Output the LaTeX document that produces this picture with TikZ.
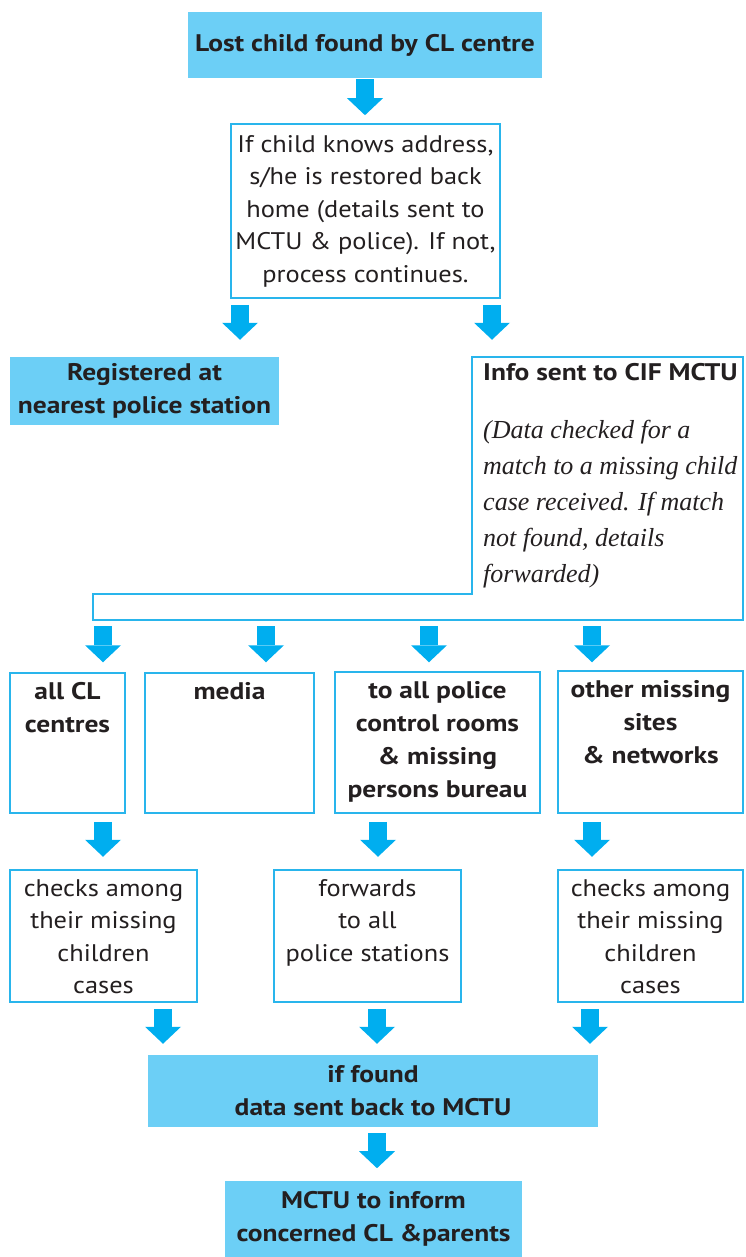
\documentclass[tikz,border=0pt]{standalone}
\usepackage{fontspec}
\setmainfont{PT Sans}[FakeStretch=1.1, BoldFeatures={FakeStretch=1.145}]
\newfontfamily\notefont{Liberation Serif}
\usetikzlibrary{arrows.meta,positioning,calc}

\definecolor{boxfill}{RGB}{108,207,246}
\definecolor{boxline}{RGB}{41,181,236}
\definecolor{arrowblue}{RGB}{0,174,239}
\definecolor{inktext}{RGB}{35,31,32}

\tikzset{
  fillbox/.style={fill=boxfill, inner sep=0pt, align=center, text=inktext, font=\bfseries\fontsize{24}{33}\selectfont},
  linebox/.style={draw=boxline, line width=1.5pt, inner sep=0pt},
  boldtext/.style={inner sep=0pt, align=center, text=inktext, font=\bfseries\fontsize{24}{33}\selectfont},
  plaintext/.style={inner sep=0pt, align=center, text=inktext, font=\fontsize{24}{32.5}\selectfont},
  flow/.style={color=arrowblue, line width=18.5pt, -{Triangle[width=36pt,length=17pt,line width=0pt]}},
}

\begin{document}
\begin{tikzpicture}[x=1pt,y=1pt,yscale=-1]
\useasboundingbox (0,0) rectangle (745,1257);

% Start
\node[fillbox, minimum width=354, minimum height=66] (start) at (365,45) {Lost child found by CL centre};
% Address check
\node[linebox, plaintext, minimum width=269, minimum height=174] (address) at (365.5,211)
  {If child knows address,\\ s/he is restored back\\ home (details sent to\\ MCTU \& police). If not,\\ process continues.};
% Police station
\node[fillbox, minimum width=269, minimum height=68] (station) at (144.5,391) {Registered at\\ nearest police station};

% Info box with bracket below
\draw[boxline, line width=1.5pt] (472,357) -- (743,357) -- (743,620) -- (93,620) -- (93,594) -- (472,594) -- cycle;
\node[boldtext, anchor=west] (infohead) at (483,372) {Info sent to CIF MCTU};
\node[inner sep=0pt, anchor=north west, align=left, text=inktext, font=\notefont\itshape\fontsize{26}{36}\selectfont] (infonote) at (483,420)
  {(Data checked for a\\ match to a missing child\\ case received. If match\\ not found, details\\ forwarded)};

% First row of receivers
\node[linebox, minimum width=115, minimum height=140] (centres) at (67.5,743) {};
\node[linebox, minimum width=169, minimum height=140] (media) at (229.5,743) {};
\node[linebox, minimum width=205, minimum height=141] (rooms) at (437.5,742.5) {};
\node[linebox, minimum width=185, minimum height=142] (sites) at (650.5,742) {};
\node[boldtext, below=10pt of centres.north] (centrestext) {all CL\\ centres};
\node[boldtext, below=10pt of media.north] (mediatext) {media};
\node[boldtext, below=10pt of rooms.north] (roomstext) {to all police\\ control rooms\\ \& missing\\ persons bureau};
\node[boldtext, below=10pt of sites.north] (sitestext) {other missing\\ sites\\ \& networks};

% Second row
\node[linebox, minimum width=187, minimum height=132] (checkl) at (103.5,936) {};
\node[linebox, minimum width=187, minimum height=132] (forward) at (367.5,936) {};
\node[linebox, minimum width=185, minimum height=132] (checkr) at (650.5,936) {};
\node[plaintext, below=10pt of checkl.north] (checkltext) {checks among\\ their missing\\ children\\ cases};
\node[plaintext, below=10pt of forward.north] (forwardtext) {forwards\\ to all\\ police stations};
\node[plaintext, below=10pt of checkr.north] (checkrtext) {checks among\\ their missing\\ children\\ cases};

% Result
\node[fillbox, minimum width=450, minimum height=72] (back) at (373,1091) {if found\\ data sent back to MCTU};
\node[fillbox, minimum width=297, minimum height=76] (inform) at (373.5,1219) {MCTU to inform\\ concerned CL \&parents};

% Arrows
\draw[flow] ($(start.south)+(0,1)$) -- ++(0,36);
\draw[flow] ($(address.south)+(-125.5,6)$) -- ++(0,35);
\draw[flow] ($(address.south)+(126.5,6)$) -- ++(0,35);
\draw[flow] ($(centres.north)+(35.5,-46)$) -- ++(0,36);
\draw[flow] ($(media.north)+(36.5,-46)$) -- ++(0,36);
\draw[flow] ($(rooms.north)+(-8.5,-45)$) -- ++(0,36);
\draw[flow] ($(sites.north)+(-58.5,-44)$) -- ++(0,36);
\draw[flow] ($(centres.south)+(35.5,8)$) -- ++(0,35);
\draw[flow] ($(rooms.south)+(-59.5,8)$) -- ++(0,35);
\draw[flow] ($(sites.south)+(-58.5,8)$) -- ++(0,35);
\draw[flow] ($(checkl.south)+(59.5,6)$) -- ++(0,35);
\draw[flow] ($(forward.south)+(9.5,6)$) -- ++(0,35);
\draw[flow] ($(checkr.south)+(-60.5,6)$) -- ++(0,35);
\draw[flow] ($(back.south)+(4,6)$) -- ++(0,35);

\end{tikzpicture}
\end{document}
